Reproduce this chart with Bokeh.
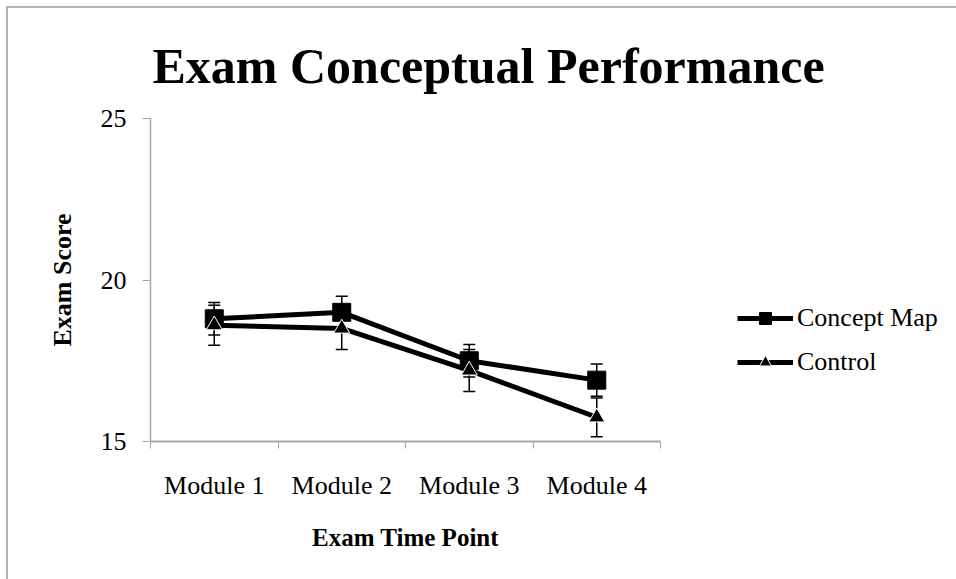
from bokeh.plotting import figure
from bokeh.models import (ColumnDataSource, Range1d, FixedTicker, Legend, LegendItem,
                          Whisker, TeeHead)
from bokeh.embed import file_html
from bokeh.resources import INLINE

categories = ["Module 1", "Module 2", "Module 3", "Module 4"]
concept_map = [18.8, 19.0, 17.5, 16.9]
concept_err = [0.5, 0.5, 0.5, 0.5]
control = [18.6, 18.5, 17.2, 15.75]
control_err = [0.62, 0.65, 0.65, 0.6]
y_ticks = [15, 20, 25]

FONT = "Liberation Serif"
GRAY = "#a6a6a6"

xs = [i + 0.5 for i in range(len(categories))]

p = figure(frame_width=510, frame_height=323, output_backend="svg", toolbar_location=None,
           x_range=Range1d(0, len(categories)), y_range=Range1d(15, 25),
           min_border_left=142, min_border_top=110, min_border_bottom=138,
           min_border_right=10)
p.outline_line_color = None
p.grid.visible = False

p.title.text = "Exam Conceptual Performance"
p.title.text_font = FONT
p.title.text_font_size = "50px"
p.title.text_font_style = "bold"
p.title.text_color = "black"
p.title.align = "left"
p.title.offset = 2
p.title.standoff = 50

# x axis
p.xaxis.ticker = FixedTicker(ticks=xs, minor_ticks=list(range(len(categories) + 1)))
p.xaxis.major_label_overrides = {x: c for x, c in zip(xs, categories)}
p.xaxis.major_tick_out = 0
p.xaxis.major_tick_in = 0
p.xaxis.minor_tick_out = 7
p.xaxis.minor_tick_in = 0
p.xaxis.minor_tick_line_color = GRAY
p.xaxis.axis_line_color = GRAY
p.xaxis.axis_line_width = 2
p.xaxis.major_label_text_font = FONT
p.xaxis.major_label_text_font_size = "26px"
p.xaxis.major_label_text_color = "black"
p.xaxis.major_label_standoff = 22
p.xaxis.axis_label = "Exam Time Point"
p.xaxis.axis_label_text_font = FONT
p.xaxis.axis_label_text_font_size = "25px"
p.xaxis.axis_label_text_font_style = "bold"
p.xaxis.axis_label_text_color = "black"
p.xaxis.axis_label_standoff = 21

# y axis
p.yaxis.ticker = FixedTicker(ticks=y_ticks)
p.yaxis.major_tick_out = 8
p.yaxis.major_tick_in = 0
p.yaxis.minor_tick_out = 0
p.yaxis.minor_tick_in = 0
p.yaxis.major_tick_line_color = GRAY
p.yaxis.axis_line_color = GRAY
p.yaxis.axis_line_width = 1.5
p.yaxis.major_label_text_font = FONT
p.yaxis.major_label_text_font_size = "26px"
p.yaxis.major_label_text_color = "black"
p.yaxis.major_label_standoff = 16
p.yaxis.axis_label = "Exam Score"
p.yaxis.axis_label_text_font = FONT
p.yaxis.axis_label_text_font_size = "26px"
p.yaxis.axis_label_text_font_style = "bold"
p.yaxis.axis_label_text_color = "black"
p.yaxis.axis_label_standoff = 21

src_cm = ColumnDataSource(dict(x=xs, y=concept_map,
                               lo=[v - e for v, e in zip(concept_map, concept_err)],
                               hi=[v + e for v, e in zip(concept_map, concept_err)]))
src_ct = ColumnDataSource(dict(x=xs, y=control,
                               lo=[v - e for v, e in zip(control, control_err)],
                               hi=[v + e for v, e in zip(control, control_err)]))

for src in (src_cm, src_ct):
    w = Whisker(source=src, base="x", lower="lo", upper="hi", line_color="black",
                line_width=1.5,
                upper_head=TeeHead(size=12, line_color="black", line_width=1.5),
                lower_head=TeeHead(size=12, line_color="black", line_width=1.5))
    w.level = "underlay"
    p.add_layout(w)

l1 = p.line("x", "y", source=src_cm, line_color="black", line_width=5)
s1 = p.scatter("x", "y", source=src_cm, marker="square", size=18,
               fill_color="black", line_color="black")
l2 = p.line("x", "y", source=src_ct, line_color="black", line_width=5)
s2 = p.scatter("x", "y", source=src_ct, marker="triangle", size=16,
               fill_color="black", line_color="white", line_width=1)

legend = Legend(items=[LegendItem(label="Concept Map", renderers=[l1, s1]),
                       LegendItem(label="Control", renderers=[l2, s2])],
                location=(77, 64), orientation="vertical")
legend.label_text_font = FONT
legend.label_text_font_size = "26px"
legend.label_text_color = "black"
legend.glyph_width = 56
legend.glyph_height = 30
legend.label_standoff = 4
legend.spacing = 14
legend.padding = 0
legend.margin = 0
legend.border_line_color = None
legend.background_fill_alpha = 0
p.add_layout(legend, "right")

p.styles = {"border-top": "2px solid #b3b3b3", "border-left": "2px solid #b3b3b3",
            "margin-top": "6px", "margin-left": "6px"}

open("out.html", "w").write(file_html(p, INLINE))
